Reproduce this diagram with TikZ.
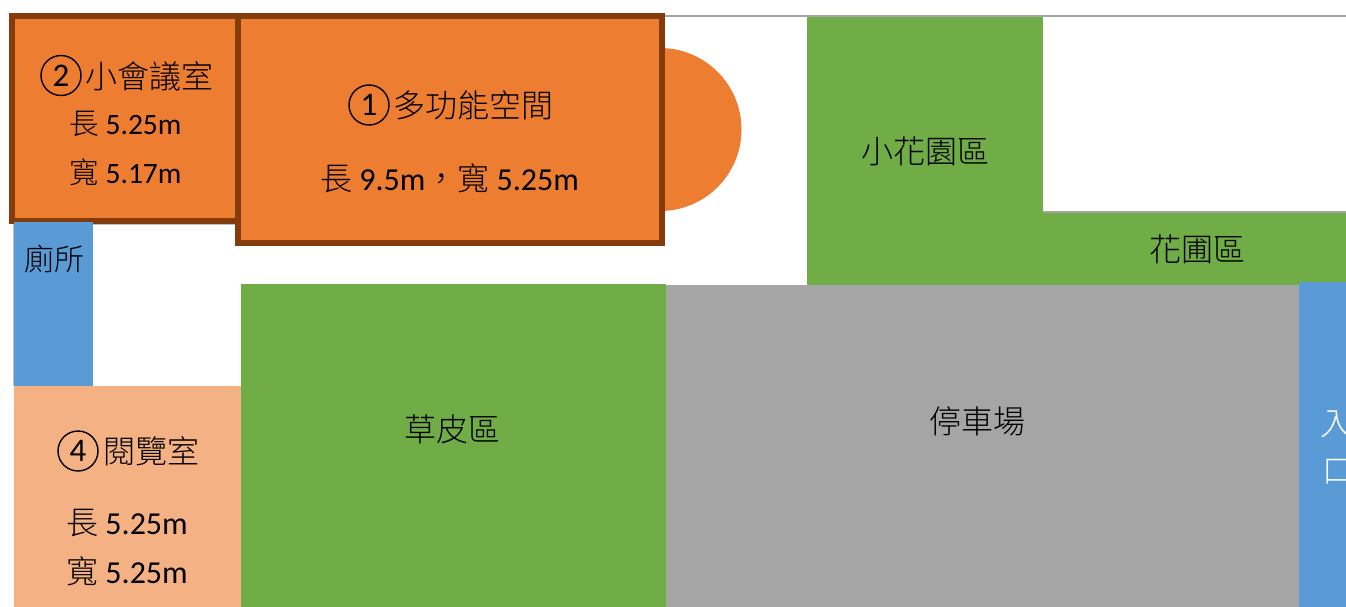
\documentclass[tikz,border=0pt]{standalone}
\usepackage{fontspec}
\setmainfont{Carlito}
\newfontfamily\cjk{Noto Sans CJK TC}[UprightFont=* Light]
\definecolor{orangeF}{HTML}{ED7D31}
\definecolor{brownE}{HTML}{843C0C}
\definecolor{greenF}{HTML}{70AD47}
\definecolor{blueF}{HTML}{5B9BD5}
\definecolor{peachF}{HTML}{F4B183}
\definecolor{grayF}{HTML}{A5A5A5}
\tikzset{
  x=1pt,y=-1pt,
  room/.style={fill=orangeF,draw=brownE,line width=6pt},
  hair/.style={draw=grayF,line width=1.6pt},
  label/.style={inner sep=0pt,outer sep=0pt,font=\fontsize{32}{32}\selectfont\cjk,text=black},
  small/.style={inner sep=0pt,outer sep=0pt,font=\fontsize{29.5}{29.5}\selectfont,text=black},
  big/.style={inner sep=0pt,outer sep=0pt,font=\fontsize{32}{32}\selectfont,text=black},
  badge/.style={circle,draw=black,line width=1.4pt,minimum size=40pt,inner sep=0pt,font=\fontsize{33}{33}\selectfont,text=black},
}
\begin{document}
\begin{tikzpicture}
\useasboundingbox (0,0) rectangle (1346,607);
\fill[white] (0,0) rectangle (1346,607);
% thin outlines under the zones
\draw[draw=grayF!70,line width=1pt] (13.5,222) -- (13.5,386);
\draw[draw=grayF!70,line width=1pt] (93,224.5) -- (235,224.5);
% bay window
\fill[orangeF] (660,48) arc[start angle=-90,end angle=90,radius=81.5] -- cycle;
% rooms
\path[room] (12.3,16) rectangle (238,221);
\path[room] (238,16) rectangle (662,243);
% zones
\fill[blueF] (14,222) rectangle (93,386);
\fill[peachF] (14,386) rectangle (241,607);
\fill[greenF] (241,284) rectangle (666,607);
\fill[grayF] (666,285) rectangle (1299,607);
\fill[greenF] (807,16) rectangle (1043,285);
\fill[greenF] (1043,213) rectangle (1346,285);
\fill[blueF] (1299,282) rectangle (1346,607);
\draw[hair] (665,16) -- (1346,16);
\draw[hair] (1043,212) -- (1346,212);
% room 2
\node[badge] (c2) at (61,75.5) {2};
\node[label] (t2) at (149.5,76) {小會議室};
\node[small] (t2a) at (125.5,124) {{\cjk 長} 5.25m};
\node[small] (t2b) at (125.5,172) {{\cjk 寬} 5.17m};
% room 1
\node[badge] (c1) at (369,105) {1};
\node[label] (t1) at (473.5,105) {多功能空間};
\node[big] (t1a) at (449.5,178) {{\cjk 長} 9.5m{\cjk ，寬} 5.25m};
% room 4
\node[badge] (c4) at (78,451) {4};
\node[label] (t4) at (151,451) {閱覽室};
\node[big] (t4a) at (127,523) {{\cjk 長} 5.25m};
\node[big] (t4b) at (127,571) {{\cjk 寬} 5.25m};
% others
\node[label,font=\fontsize{30}{30}\selectfont\cjk] (wc) at (54,259) {廁所};
\node[label] (lawn) at (452.5,429) {草皮區};
\node[label] (park) at (977.5,421) {停車場};
\node[label] (sg) at (925.5,151) {小花園區};
\node[label] (gd) at (1197.5,249) {花圃區};
\node[label,text=white] (in1) at (1336,424) {入};
\node[label,text=white] (in2) at (1338,472) {口};
\end{tikzpicture}
\end{document}
